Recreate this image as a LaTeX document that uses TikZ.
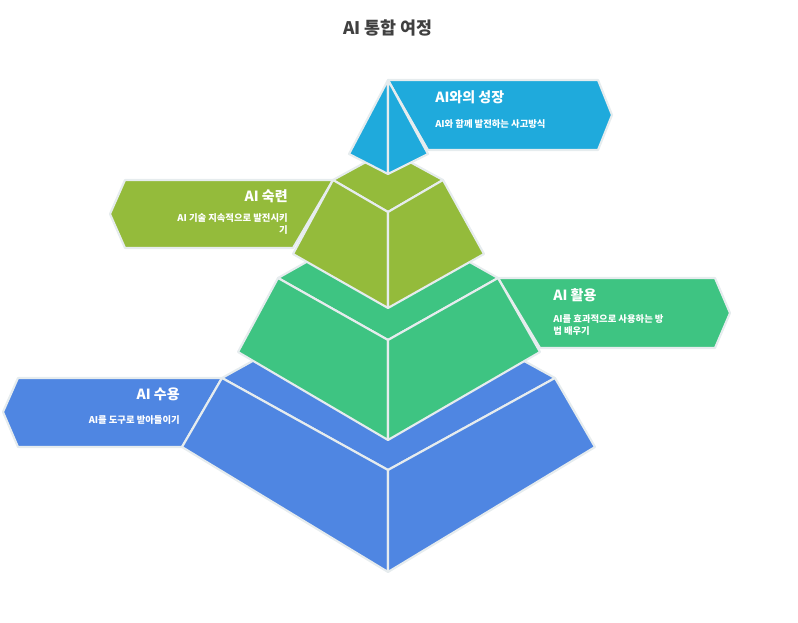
\documentclass[tikz,border=0pt]{standalone}
\usepackage{fontspec}
\setmainfont{Noto Sans CJK KR}
\begin{document}
\begin{tikzpicture}[x=0.75pt,y=-0.75pt,
  face/.style={draw=edgec,line width=1.6pt,line join=round},
  ttl/.style={text=white,font=\bfseries\fontsize{10.5}{12}\selectfont,inner sep=0},
  sub/.style={text=white,font=\bfseries\fontsize{7}{9.5}\selectfont,inner sep=0,align=left}]
\definecolor{edgec}{HTML}{E6ECEE}
\definecolor{cblue}{HTML}{4F86E2}
\definecolor{cgreen}{HTML}{3EC482}
\definecolor{colive}{HTML}{94BB3B}
\definecolor{csky}{HTML}{1FAADC}
\definecolor{ctext}{HTML}{404040}
\useasboundingbox (0,0) rectangle (798,623);
\node[font=\bfseries\fontsize{13}{15}\selectfont,text=ctext] (title) at (388,28) {AI 통합 여정};
% banners
\fill[face,fill=cblue] (222,378)--(18,378)--(3,412)--(18,447)--(182,447)--cycle;
\fill[face,fill=cgreen] (498,278)--(715,278)--(730,313)--(715,348)--(540,348)--cycle;
\fill[face,fill=colive] (333,180)--(125,180)--(110,214)--(125,248)--(293,248)--cycle;
\fill[face,fill=csky] (388,80)--(598,80)--(612,115)--(598,150)--(428,150)--cycle;
% blue tier
\filldraw[face,fill=cblue] (222,378)--(388,286)--(555,378)--(388,470)--cycle;
\filldraw[face,fill=cblue] (222,378)--(182,447)--(388,572)--(388,470)--cycle;
\filldraw[face,fill=cblue] (388,470)--(388,572)--(595,447)--(555,378)--cycle;
% green tier
\filldraw[face,fill=cgreen] (278,278)--(388,216)--(498,278)--(388,340)--cycle;
\filldraw[face,fill=cgreen] (278,278)--(238,352)--(388,440)--(388,340)--cycle;
\filldraw[face,fill=cgreen] (388,340)--(388,440)--(540,352)--(498,278)--cycle;
% olive tier
\filldraw[face,fill=colive] (333,180)--(388,150)--(443,180)--(388,212)--cycle;
\filldraw[face,fill=colive] (333,180)--(293,254)--(388,308)--(388,212)--cycle;
\filldraw[face,fill=colive] (388,212)--(388,308)--(484,254)--(443,180)--cycle;
% top
\filldraw[face,fill=csky] (388,80)--(349,154)--(388,174)--cycle;
\filldraw[face,fill=csky] (388,80)--(388,174)--(428,154)--cycle;
% texts
\node[ttl,anchor=west] (t1) at (435,97) {AI와의 성장};
\node[sub,anchor=west] (s1) at (435,124) {AI와 함께 발전하는 사고방식};
\node[ttl,anchor=east] (t2) at (288,196) {AI 숙련};
\node[sub,anchor=north east,align=right] (s2) at (288,213) {AI 기술 지속적으로 발전시키\\기};
\node[ttl,anchor=west] (t3) at (553,295) {AI 활용};
\node[sub,anchor=north west] (s3) at (553,314) {AI를 효과적으로 사용하는 방\\법 배우기};
\node[ttl,anchor=east] (t4) at (180,394) {AI 수용};
\node[sub,anchor=east] (s4) at (180,420) {AI를 도구로 받아들이기};
\end{tikzpicture}
\end{document}
